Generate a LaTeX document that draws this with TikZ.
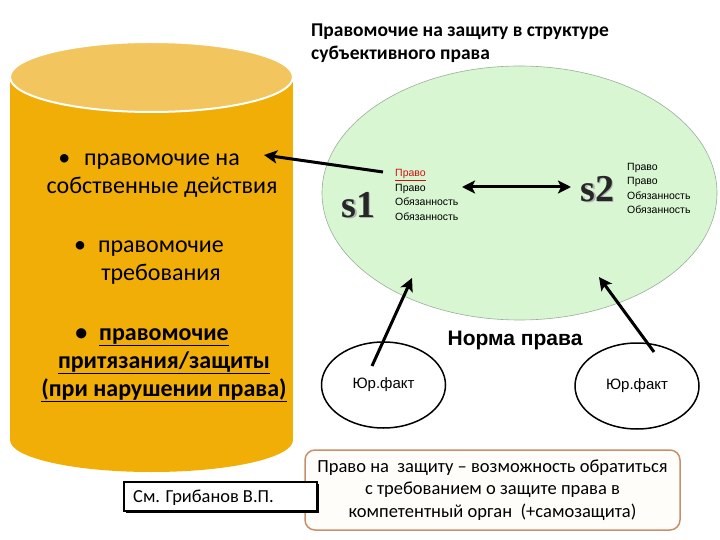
\documentclass[tikz,border=0pt]{standalone}
\usepackage{fontspec}
\setmainfont{Carlito}
\newfontfamily\arialf{Liberation Sans}
\newfontfamily\seriff{Liberation Serif}
\usetikzlibrary{arrows.meta,shapes.geometric}
\definecolor{cylbody}{HTML}{F0AE06}
\definecolor{cyltop}{HTML}{F3C55E}
\definecolor{lgreen}{HTML}{D8F6D2}
\definecolor{eborder}{HTML}{9AAE9A}
\definecolor{boxbrown}{HTML}{C8906A}
\definecolor{boxfill}{HTML}{FFFDFA}
\definecolor{redtxt}{HTML}{D01010}
\newcommand{\hbul}[1]{\llap{\textbullet\hspace{#1}}}
\tikzset{
  cyltext/.style={font=\fontsize{24}{28}\selectfont, align=center, text=black, inner sep=0pt},
  smalltxt/.style={font=\arialf\fontsize{10.5}{14.5}\selectfont, align=left, anchor=west, inner sep=0pt},
  symb/.style={font=\seriff\bfseries\fontsize{38}{38}\selectfont, inner sep=0pt},
  factnode/.style={ellipse, draw=black, line width=1.5pt, fill=white, minimum width=124, minimum height=86, font=\arialf\fontsize{15}{15}\selectfont, inner sep=0pt},
  bigarrow/.style={line width=3pt, -{Stealth[length=13pt,width=13pt,inset=3pt]}},
  dblarrow/.style={line width=3pt, {Stealth[length=13pt,width=13pt,inset=3pt]}-{Stealth[length=13pt,width=13pt,inset=3pt]}},
}
\begin{document}
\begin{tikzpicture}[x=1pt,y=-1pt]
\useasboundingbox (0,0) rectangle (720,540);
% cylinder
\fill[cylbody] (10,77) rectangle (293,440);
\fill[cylbody] (151.5,440) ellipse [x radius=141.5, y radius=32];
\draw[white, line width=2pt, fill=cyltop] (151.5,77) ellipse [x radius=141.5, y radius=35];
\node[cyltext] (c1) at (162,176) {\hbul{14pt}правомочие на\\собственные действия};
\node[cyltext] (c2) at (161,262.5) {\hbul{12pt}правомочие\\требования};
\node[cyltext, font=\bfseries\fontsize{24}{28}\selectfont] (c3) at (164,365) {\hbul{12pt}\underline{правомочие}\\\underline{притязания/защиты}\\\underline{(при нарушении права)}};
% title
\node[anchor=west, align=left, font=\bfseries\fontsize{19.5}{23}\selectfont, inner sep=0pt] (title) at (311,43.5) {Правомочие на защиту в структуре\\субъективного права};
% big ellipse
\node[ellipse, draw=eborder, line width=0.6pt, fill=lgreen, minimum width=395, minimum height=254, inner sep=0pt] (norm) at (519.5,193) {};
% s1, s2
\node[symb, text=gray!60] at (360,206.5) {s1};
\node[symb, text=black!85] (s1) at (358.5,205) {s1};
\node[symb, text=gray!60] at (599,190.5) {s2};
\node[symb, text=black!85] (s2) at (597.5,189) {s2};
\node[smalltxt] (t1) at (395,195) {\textcolor{redtxt}{\underline{Право}}\\Право\\Обязанность\\Обязанность};
\node[smalltxt] (t2) at (627,188.5) {Право\\Право\\Обязанность\\Обязанность};
\coordinate (dl) at (462,187);
\coordinate (dr) at (571,187);
\draw[dblarrow] (dl) -- (dr);
\coordinate (a1s) at (383,172);
\coordinate (a1e) at (264,155);
\draw[bigarrow] (a1s) -- (a1e);
% Norma prava
\node[font=\arialf\bfseries\fontsize{21}{21}\selectfont] (np) at (515,340) {Норма права};
% facts
\node[factnode] (f1) at (383.5,385) {Юр.факт};
\node[factnode] (f2) at (637,386) {Юр.факт};
\coordinate (f1s) at (372,366);
\coordinate (f1e) at (412,278);
\coordinate (f2s) at (654,352);
\coordinate (f2e) at (599,277);
\draw[bigarrow] (f1s) -- (f1e);
\draw[bigarrow] (f2s) -- (f2e);
% bottom boxes
\node[draw=boxbrown, line width=1.5pt, rounded corners=10pt, fill=boxfill, minimum width=375, minimum height=80, align=center, font=\fontsize{18.5}{22.5}\selectfont, inner sep=0pt] (def) at (492.5,490) {Право на\ \ защиту -- возможность обратиться\\с требованием о защите права в\\компетентный орган\ \ (+самозащита)};
\fill[black] (126,484) rectangle (319,513);
\node[draw=black, line width=1.2pt, fill=white, minimum width=193, minimum height=29, font=\fontsize{18.4}{18.4}\selectfont, inner sep=0pt] (grib) at (220.5,496.5) {};
\node[anchor=west, font=\fontsize{18.4}{18.4}\selectfont, inner sep=0pt] (gribt) at (133,498) {См. Грибанов В.П.};
\end{tikzpicture}
\end{document}
